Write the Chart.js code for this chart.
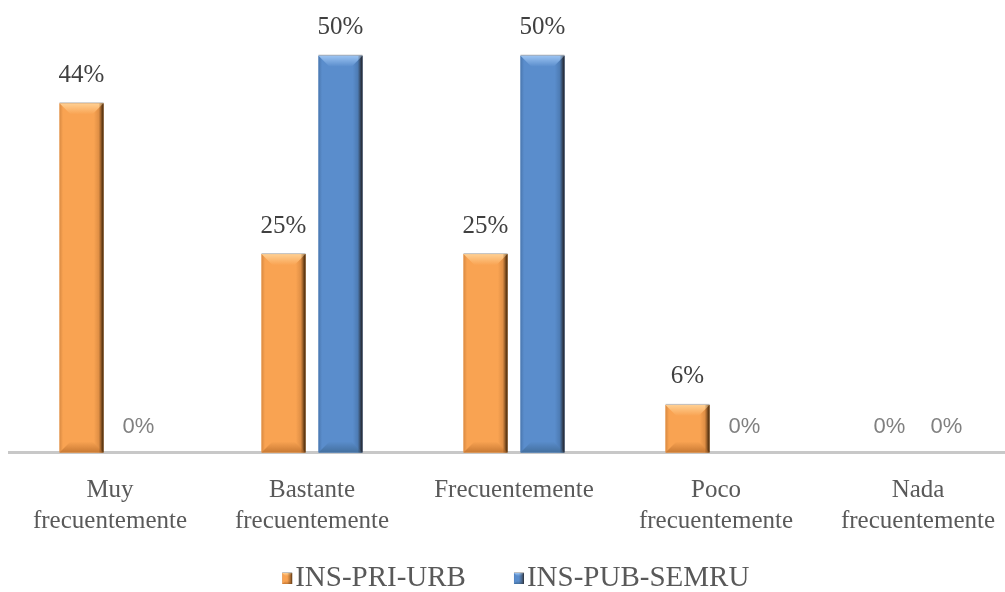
<!DOCTYPE html>
<html>
<head>
<meta charset="utf-8">
<script src="https://cdn.jsdelivr.net/npm/chart.js@4/dist/chart.umd.min.js"></script>
<style>
  html, body { margin: 0; padding: 0; background: #fff; overflow: hidden; }
  canvas { display: block; margin-left: -9px; }
</style>
</head>
<body>
<canvas id="frecuenciaChart" width="1029" height="603"></canvas>
<script>
const categories = [
  ["Muy", "frecuentemente"],
  ["Bastante", "frecuentemente"],
  "Frecuentemente",
  ["Poco", "frecuentemente"],
  ["Nada", "frecuentemente"],
];
const seriesNames = ["INS-PRI-URB", "INS-PUB-SEMRU"];
const priUrb = [44, 25, 25, 6, 0];
const pubSemru = [0, 50, 50, 0, 0];

const SERIF = '"Liberation Serif", "Times New Roman", serif';
const SANS = '"Liberation Sans", Arial, sans-serif';

// bevel palettes: face, left edge, right edge, top light, bottom shade
const palettes = [
  { face: "#F9A352", left: "#D98A42", right: "#6E4318", top: "#FFD093", bottom: "#C97A34" },
  { face: "#5A8DCC", left: "#4A77AE", right: "#223A5E", top: "#9CC4F2", bottom: "#44709F" },
];

function drawBevel(ctx, x0, y0, x1, y1, p, size) {
  const w = x1 - x0, h = y1 - y0;
  if (w <= 0 || h <= 1) return;
  const b = Math.min(size, h / 2, w / 2);
  ctx.save();
  // face with darker sides
  let g = ctx.createLinearGradient(x0, 0, x1, 0);
  g.addColorStop(0, p.left);
  g.addColorStop(0.08, p.face);
  g.addColorStop(0.78, p.face);
  g.addColorStop(0.92, p.left);
  g.addColorStop(1, p.right);
  ctx.fillStyle = g;
  ctx.fillRect(x0, y0, w, h);
  // top bevel
  g = ctx.createLinearGradient(0, y0, 0, y0 + b);
  g.addColorStop(0, p.top);
  g.addColorStop(1, p.face);
  ctx.fillStyle = g;
  ctx.beginPath();
  ctx.moveTo(x0, y0);
  ctx.lineTo(x1, y0);
  ctx.lineTo(x1 - b, y0 + b);
  ctx.lineTo(x0 + b, y0 + b);
  ctx.closePath();
  ctx.fill();
  // bottom bevel
  g = ctx.createLinearGradient(0, y1 - b, 0, y1);
  g.addColorStop(0, p.face);
  g.addColorStop(1, p.bottom);
  ctx.fillStyle = g;
  ctx.beginPath();
  ctx.moveTo(x0, y1);
  ctx.lineTo(x1, y1);
  ctx.lineTo(x1 - b, y1 - b);
  ctx.lineTo(x0 + b, y1 - b);
  ctx.closePath();
  ctx.fill();
  // dark right edge
  g = ctx.createLinearGradient(x1 - 5, 0, x1, 0);
  g.addColorStop(0, "rgba(40,20,0,0)");
  g.addColorStop(1, "rgba(40,20,0,0.55)");
  ctx.fillStyle = g;
  ctx.fillRect(x1 - 5, y0, 5, h);
  // thin grey rim along the top
  ctx.fillStyle = "rgba(150,150,150,0.6)";
  ctx.fillRect(x0, y0 - 1, w, 1);
  ctx.restore();
}

const bevelBars = {
  id: "bevelBars",
  afterDatasetsDraw(chart) {
    const ctx = chart.ctx;
    chart.data.datasets.forEach((ds, i) => {
      chart.getDatasetMeta(i).data.forEach((bar) => {
        const half = bar.width / 2;
        drawBevel(ctx, bar.x - half, bar.y, bar.x + half, bar.base, palettes[i], 11);
      });
    });
  },
};

const valueLabels = {
  id: "valueLabels",
  afterDatasetsDraw(chart) {
    const ctx = chart.ctx;
    ctx.save();
    ctx.textAlign = "center";
    ctx.textBaseline = "middle";
    chart.data.datasets.forEach((ds, i) => {
      chart.getDatasetMeta(i).data.forEach((bar, j) => {
        const v = ds.data[j];
        if (v === 0) {
          ctx.font = "22px " + SANS;
          ctx.fillStyle = "#808080";
          ctx.fillText(v + "%", bar.x, bar.y - 26);
        } else {
          ctx.font = "25px " + SERIF;
          ctx.fillStyle = "#404040";
          ctx.fillText(v + "%", bar.x, bar.y - 28);
        }
      });
    });
    ctx.restore();
  },
};

// small bevelled squares just before each legend text
const legendBoxes = {
  id: "legendBoxes",
  afterDraw(chart) {
    const legend = chart.legend;
    if (!legend || !legend.legendHitBoxes) return;
    const lbl = legend.options.labels;
    legend.legendHitBoxes.forEach((hb, i) => {
      const x0 = hb.left + lbl.boxWidth + lbl.font.size / 2 - 13;
      const cy = hb.top + hb.height / 2;
      drawBevel(chart.ctx, x0, cy - 5.5, x0 + 10, cy + 5.5, palettes[i], 3);
    });
  },
};

new Chart(document.getElementById("frecuenciaChart"), {
  type: "bar",
  data: {
    labels: categories,
    datasets: [
      { label: seriesNames[0], data: priUrb, backgroundColor: palettes[0].face, borderWidth: 0 },
      { label: seriesNames[1], data: pubSemru, backgroundColor: palettes[1].face, borderWidth: 0 },
    ],
  },
  options: {
    responsive: false,
    animation: false,
    categoryPercentage: 0.564,
    barPercentage: 0.772,
    layout: { padding: { left: 0, right: 1, top: 16, bottom: 0 } },
    scales: {
      x: {
        grid: { display: false, drawTicks: false },
        border: { display: true, color: "#C8C8C8", width: 3 },
        ticks: {
          padding: 22,
          maxRotation: 0,
          color: "#595959",
          font: { family: SERIF, size: 25, lineHeight: 1.24 },
        },
        afterFit(scale) {
          scale.height = 85;
        },
      },
      // hidden value axis, only reserves the left margin
      y: {
        min: 0,
        max: 55,
        grid: { display: false },
        border: { display: false },
        ticks: { display: false },
        afterFit(scale) {
          scale.width = 18;
        },
      },
    },
    plugins: {
      legend: {
        position: "bottom",
        labels: {
          boxWidth: 20,
          boxHeight: 29,
          padding: 26.5,
          color: "#595959",
          font: { family: SERIF, size: 29 },
          generateLabels(chart) {
            return Chart.defaults.plugins.legend.labels.generateLabels(chart).map((it) => ({
              ...it,
              fillStyle: "rgba(0,0,0,0)",
              strokeStyle: "rgba(0,0,0,0)",
              lineWidth: 0,
            }));
          },
        },
      },
      tooltip: { enabled: false },
    },
  },
  plugins: [bevelBars, valueLabels, legendBoxes],
});
</script>
</body>
</html>
